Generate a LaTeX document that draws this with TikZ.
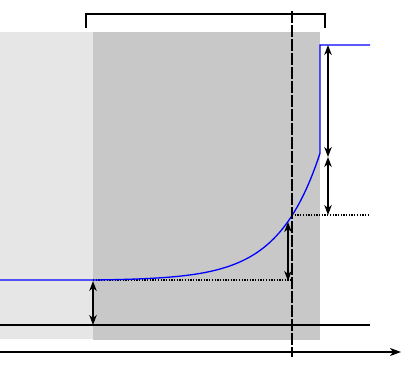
\documentclass[tikz,border=0pt]{standalone}
\usetikzlibrary{arrows.meta}
\definecolor{lightbg}{HTML}{E6E6E6}
\definecolor{darkbg}{HTML}{C8C8C8}
\begin{document}
\begin{tikzpicture}[x=1pt,y=-1pt,
  blk/.style={line width=1.2pt,black},
  tip/.style={Stealth[length=10pt,width=7.5pt,inset=3pt]},
  dim/.style={line width=1.3pt,black,{Stealth[length=10pt,width=7.5pt,inset=3pt]}-{Stealth[length=10pt,width=7.5pt,inset=3pt]}},
  curve/.style={line width=1.3pt,blue},
  dotline/.style={line width=1.2pt,dash pattern=on 1.3pt off 1.4pt}]
\useasboundingbox (0,0) rectangle (402,373);
% backgrounds
\fill[lightbg] (0,32) rectangle (93,339);
\fill[darkbg] (93,32) rectangle (320,340);
% coordinates
\coordinate (base) at (93,280);
\coordinate (cross) at (292,215);
\coordinate (knee) at (320,155);
\coordinate (top) at (320,45);
% bottom line and axis
\draw[blk] (0,325) -- (370,325);
\draw[blk,-{Stealth[length=11pt,width=8pt,inset=3pt]}] (0,352) -- (401,352);
% bracket
\draw[blk] (86,28) -- (86,14) -- (325,14) -- (325,28);
% dotted guides
\draw[dotline] (base) -- (292,280);
\draw[dotline] (cross) -- (370,215);
% curve
\draw[curve] (0,280) -- (93,280)
  plot[domain=93:320,samples=100] (\x,{280.55-65*exp(0.024*(\x-292))})
  -- (top) -- (370,45);
% dashed vertical
\draw[line width=1.2pt,dash pattern=on 12pt off 2pt] (292,11) -- (292,357);
% dimension arrows
\draw[dim] (93,281) -- (93,325);
\draw[dim] (288,222) -- (288,281);
\draw[dim] (328,45) -- (328,157);
\draw[dim] (328,157) -- (328,215);
\end{tikzpicture}
\end{document}
